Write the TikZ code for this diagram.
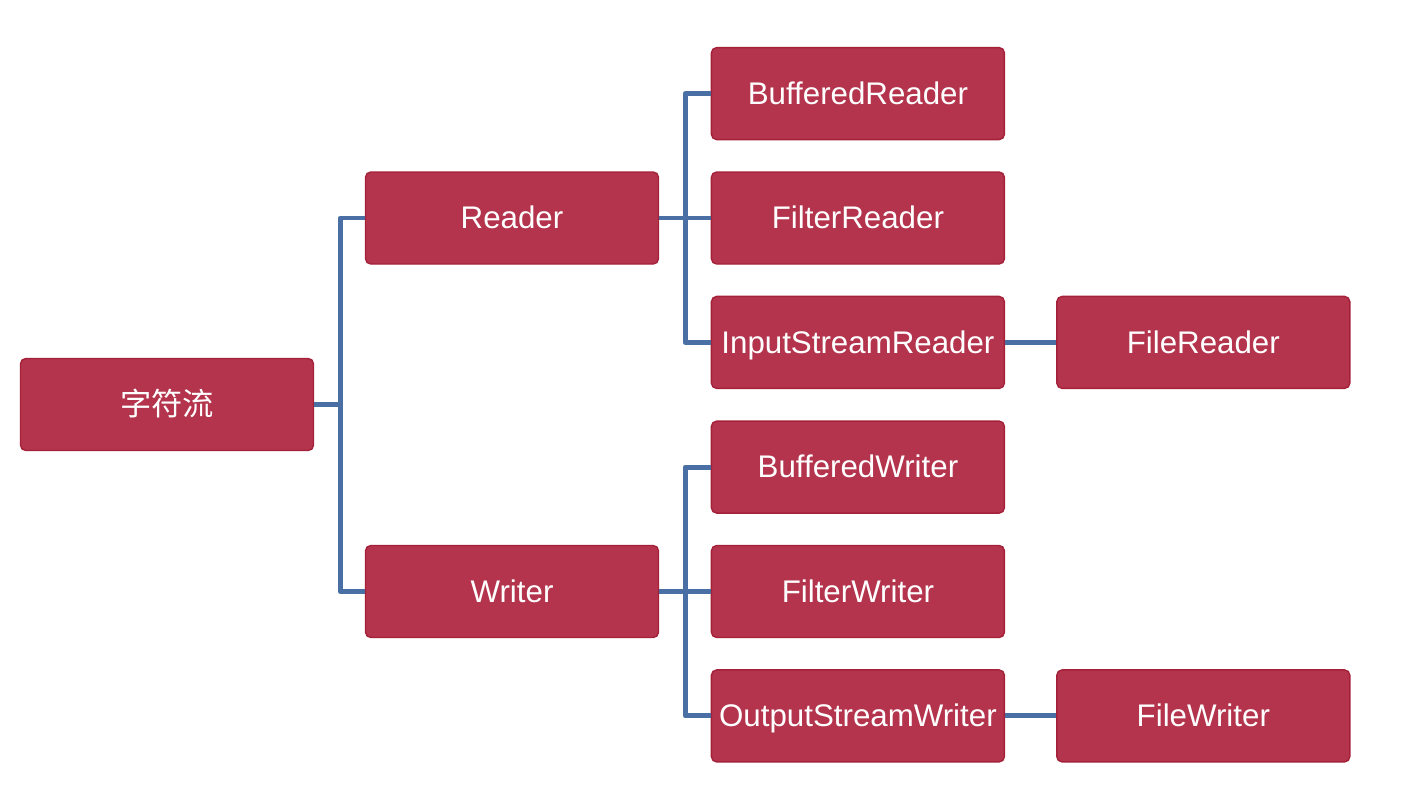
\documentclass[tikz,border=0pt]{standalone}
\usepackage{fontspec}
\setmainfont{Liberation Sans}
\newfontfamily\cjk{Noto Sans CJK SC}
\usetikzlibrary{positioning,calc}
\definecolor{boxred}{HTML}{B3344C}
\definecolor{boxedge}{HTML}{A5213A}
\definecolor{linkblue}{HTML}{4A6FA5}

\begin{document}
\begin{tikzpicture}[
    node distance=0.31cm and 0.51cm,
    cls/.style={rectangle, draw=boxedge, line width=0.4pt, fill=boxred, rounded corners=1.5pt,
        minimum width=2.93cm, minimum height=0.92cm, inner xsep=1pt, text height=1.6ex, text depth=0.45ex,
        text=white, font=\fontsize{8.9pt}{10pt}\selectfont},
    link/.style={draw=linkblue, line width=1.4pt, line join=round}
]
\useasboundingbox (0,0) rectangle (14.18,-8.08);

% Root
\node[cls] (root) at (1.67,-4.045) {\cjk 字符流};

% Reader branch
\node[cls] (reader) at (5.12,-2.18) {Reader};
\node[cls, right=0.515cm of reader] (filterreader) {FilterReader};
\node[cls, above=0.31cm of filterreader] (bufferedreader) {BufferedReader};
\node[cls, below=0.31cm of filterreader] (isreader) {InputStreamReader};
\node[cls, right=0.51cm of isreader] (filereader) {FileReader};

% Writer branch
\node[cls] (writer) at (5.12,-5.915) {Writer};
\node[cls, right=0.515cm of writer] (filterwriter) {FilterWriter};
\node[cls, above=0.31cm of filterwriter] (bufferedwriter) {BufferedWriter};
\node[cls, below=0.31cm of filterwriter] (oswriter) {OutputStreamWriter};
\node[cls, right=0.51cm of oswriter] (filewriter) {FileWriter};

% Connections
\coordinate (rootfork) at ($(root.east)+(0.26,0)$);
\draw[link] (root.east) -- (rootfork) |- (reader.west);
\draw[link] (rootfork) |- (writer.west);

\coordinate (readerfork) at ($(reader.east)+(0.26,0)$);
\draw[link] (reader.east) -- (filterreader.west);
\draw[link] (readerfork) |- (bufferedreader.west);
\draw[link] (readerfork) |- (isreader.west);
\draw[link] (isreader.east) -- (filereader.west);

\coordinate (writerfork) at ($(writer.east)+(0.26,0)$);
\draw[link] (writer.east) -- (filterwriter.west);
\draw[link] (writerfork) |- (bufferedwriter.west);
\draw[link] (writerfork) |- (oswriter.west);
\draw[link] (oswriter.east) -- (filewriter.west);

\end{tikzpicture}
\end{document}
